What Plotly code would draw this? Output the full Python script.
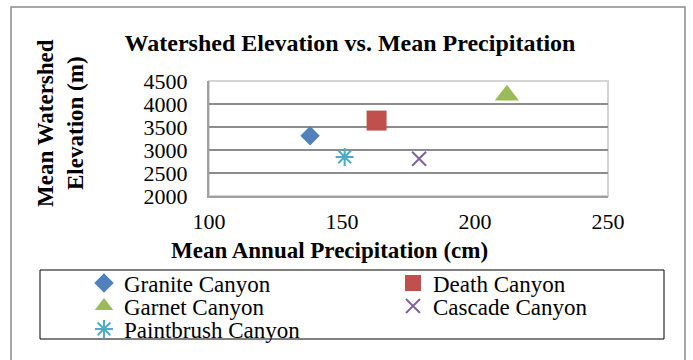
import plotly.graph_objects as go

# Canyon watershed data
canyons = ["Granite Canyon", "Death Canyon", "Garnet Canyon", "Cascade Canyon", "Paintbrush Canyon"]
precip_cm = [138, 163, 212, 179, 151]
elevation_m = [3310, 3640, 4190, 2810, 2850]

colors = ["#4F81BD", "#C0504D", "#9BBB59", "#8064A2", "#4BACC6"]
symbols = ["diamond", "square", "triangle-up", "x-thin-open", "asterisk-open"]
sizes = [15, 20, 21, 14, 15]

x_range = [100, 250]
y_range = [2000, 4500]
x_ticks = [100, 150, 200, 250]
y_ticks = [2000, 2500, 3000, 3500, 4000, 4500]

W, H = 693, 360
ML, MR, MT, MB = 209, 85, 81, 164
PW, PH = W - ML - MR, H - MT - MB

FONT = "Liberation Serif, Times New Roman, serif"

# legend key positions (pixel centre of each key symbol), two columns
legend_cols = [104, 413, 104, 413, 104]
legend_rows = [283, 283, 306, 306, 329]


def px(xp):
    return (xp - ML) / PW


def py(yp):
    return (H - MB - yp) / PH


fig = go.Figure()
legend_ids = []
for i, (name, xv, yv, c, s, sz) in enumerate(zip(canyons, precip_cm, elevation_m, colors, symbols, sizes)):
    lid = "legend" if i == 0 else f"legend{i + 1}"
    legend_ids.append(lid)
    open_sym = s.endswith("-open")
    fig.add_trace(go.Scatter(
        x=[xv], y=[yv], mode="markers", name=name, legend=lid, showlegend=True,
        marker=dict(symbol=s, size=sz, color=c,
                    line=dict(color=c, width=2 if open_sym else 0)),
    ))

axis_font = dict(family=FONT, size=22, color="black")

fig.update_xaxes(
    range=x_range, tickvals=x_ticks, ticktext=[str(v) for v in x_ticks],
    showgrid=False, zeroline=False, showline=True, linecolor="#a0a0a0", linewidth=2,
    ticks="", tickfont=axis_font, ticklabelstandoff=5, automargin=False,
)
fig.update_yaxes(
    range=y_range, tickvals=y_ticks, ticktext=[str(v) for v in y_ticks],
    showgrid=True, gridcolor="#8c8c8c", gridwidth=1.5, zeroline=False,
    showline=True, linecolor="#a0a0a0", linewidth=2,
    ticks="", tickfont=axis_font, ticklabelstandoff=15, automargin=False,
)

legends = {}
for lid, cx, cy in zip(legend_ids, legend_cols, legend_rows):
    legends[lid] = dict(
        orientation="h", xref="container", yref="container",
        x=(cx - 20) / W, y=1 - cy / H, xanchor="left", yanchor="middle",
        bgcolor="rgba(0,0,0,0)", borderwidth=0,
        font=dict(family=FONT, size=23, color="black"),
        itemclick=False, visible=True,
    )

shapes = [
    # plot area frame (top/right in light grey)
    dict(type="rect", xref="paper", yref="paper", x0=0, x1=1, y0=0, y1=1,
         line=dict(color="#d4d4d4", width=2), layer="below"),
    # legend box
    dict(type="rect", xref="paper", yref="paper", x0=px(40), x1=px(664), y0=py(339), y1=py(270),
         line=dict(color="black", width=1)),
    # outer chart frame
    dict(type="rect", xref="paper", yref="paper", x0=px(11), x1=px(685), y0=py(366), y1=py(7),
         line=dict(color="#8c8c8c", width=1.5)),
]

annotations = [
    dict(text="Mean Watershed<br>Elevation (m)", xref="paper", yref="paper",
         x=px(60), y=py(123), xanchor="center", yanchor="middle",
         textangle=-90, showarrow=False,
         font=dict(family=FONT, size=23, color="black", weight="bold")),
    dict(text="Mean Annual Precipitation (cm)", xref="paper", yref="paper",
         x=px(329), y=py(250), xanchor="center", yanchor="middle", showarrow=False,
         font=dict(family=FONT, size=23, color="black", weight="bold")),
]

fig.update_layout(
    width=W, height=H,
    showlegend=True,
    margin=dict(l=ML, r=MR, t=MT, b=MB, autoexpand=False),
    paper_bgcolor="white", plot_bgcolor="white",
    title=dict(text="Watershed Elevation vs. Mean Precipitation",
               xref="container", yref="container", x=350 / W, y=1 - 43 / H,
               xanchor="center", yanchor="middle",
               font=dict(family=FONT, size=24, color="black", weight="bold")),
    shapes=shapes,
    annotations=annotations,
    **legends,
)

fig.write_html("out.html")
